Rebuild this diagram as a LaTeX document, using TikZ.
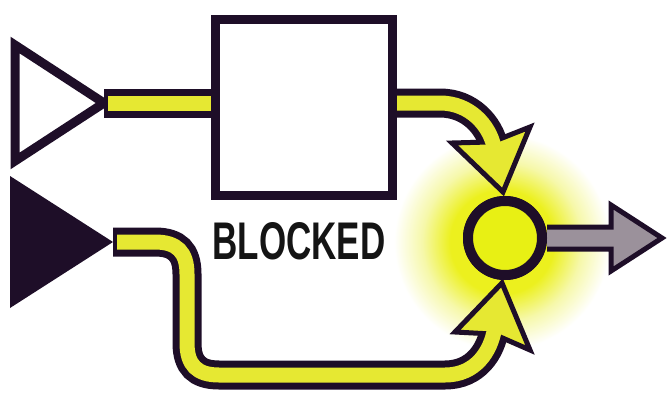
\documentclass[tikz,border=0pt]{standalone}
\usepackage{fontspec}
\setmainfont{Liberation Sans}
\definecolor{dk}{RGB}{30,14,40}
\definecolor{pipey}{RGB}{230,232,50}
\definecolor{circy}{RGB}{232,240,20}
\definecolor{glowc}{RGB}{236,240,30}
\definecolor{glowm}{RGB}{246,248,170}
\definecolor{gry}{RGB}{155,145,155}
\pgfdeclareradialshading{glow}{\pgfpoint{0bp}{0bp}}{color(0bp)=(glowc); color(12bp)=(glowc); color(18.5bp)=(glowm); color(25bp)=(white); color(50bp)=(white)}
\tikzset{
  pipeout/.style={draw=dk, line width=29pt},
  pipein/.style={draw=pipey, line width=15pt},
  headst/.style={fill=pipey, draw=dk, line width=5pt, line join=miter},
  blockbox/.style={draw=dk, line width=9pt, fill=white, minimum width=177pt, minimum height=175pt, inner sep=0pt},
  junction/.style={circle, draw=dk, line width=10pt, fill=circy, minimum size=74pt, inner sep=0pt},
  lbl/.style={text=black!92, inner sep=0pt, font=\bfseries\fontsize{53}{53}\selectfont}
}
\begin{document}
\begin{tikzpicture}[x=1pt,y=-1pt]
\useasboundingbox (0,0) rectangle (669,396);
\fill[white] (0,0) rectangle (669,396);
% glow
\shade[shading=glow] (502,242) circle (108);
% named points
\coordinate (t1tip) at (104,103);
\coordinate (t2tip) at (113,242);
\node[blockbox] (box) at (303.5,107.5) {};
\node[junction] (junc) at (505,238) {};
\node[lbl] (label) at (299,241) {\scalebox{0.66}[1]{BLOCKED}};
\coordinate (h1tip) at (503,192);
\coordinate (h1l) at (452,143);
\coordinate (h1r) at (530,127);
\coordinate (h1n) at (492.4,141.9);
\coordinate (p1end) at (494,147);
\coordinate (h2tip) at (502,283);
\coordinate (h2l) at (455,332);
\coordinate (h2r) at (530,350);
\coordinate (h2n) at (493.6,334.1);
\coordinate (p2end) at (494.4,329.2);
% triangles
\draw[dk, line width=9pt, line join=miter, fill=white] (15,45) -- (15,161) -- (t1tip) -- cycle;
\fill[dk] (10,176) -- (10,308) -- (t2tip) -- cycle;
% dark pipes
\def\pipeA{(t1tip) -- (box.west |- t1tip)}
\def\pipeB{(box.east |- t1tip) -- (440,103) .. controls (470,103) and (489.5,125.5) .. (p1end)}
\def\pipeC{(t2tip) -- (155,242) .. controls (177,242) and (187,252) .. (187,274) -- (187,343) .. controls (187,365) and (197,375) .. (219,375) -- (445,375) .. controls (476,375) and (490.8,350.9) .. (p2end)}
\draw[pipeout] \pipeA;
\draw[pipeout] \pipeB;
\draw[pipeout] \pipeC;
% arrow heads
\draw[headst] (h1tip) -- (h1r) -- (h1n) -- (h1l) -- cycle;
\draw[headst] (h2tip) -- (h2r) -- (h2n) -- (h2l) -- cycle;
% yellow pipes
\draw[pipein] ([xshift=4pt]t1tip) -- (box.west |- t1tip);
\draw[pipein] \pipeB;
\draw[pipein] ([xshift=4pt]t2tip) -- (155,242) .. controls (177,242) and (187,252) .. (187,274) -- (187,343) .. controls (187,365) and (197,375) .. (219,375) -- (445,375) .. controls (476,375) and (490.8,350.9) .. (p2end);
% box on top
\node[blockbox] at (box) {};
% output arrow
\draw[fill=gry, draw=dk, line width=5pt, line join=miter] (junc.east |- 0,227) -- (611,227) -- (611,205) -- (662,238) -- (611,271) -- (611,249) -- (junc.east |- 0,249);
\node[junction] at (junc) {};
\end{tikzpicture}
\end{document}
